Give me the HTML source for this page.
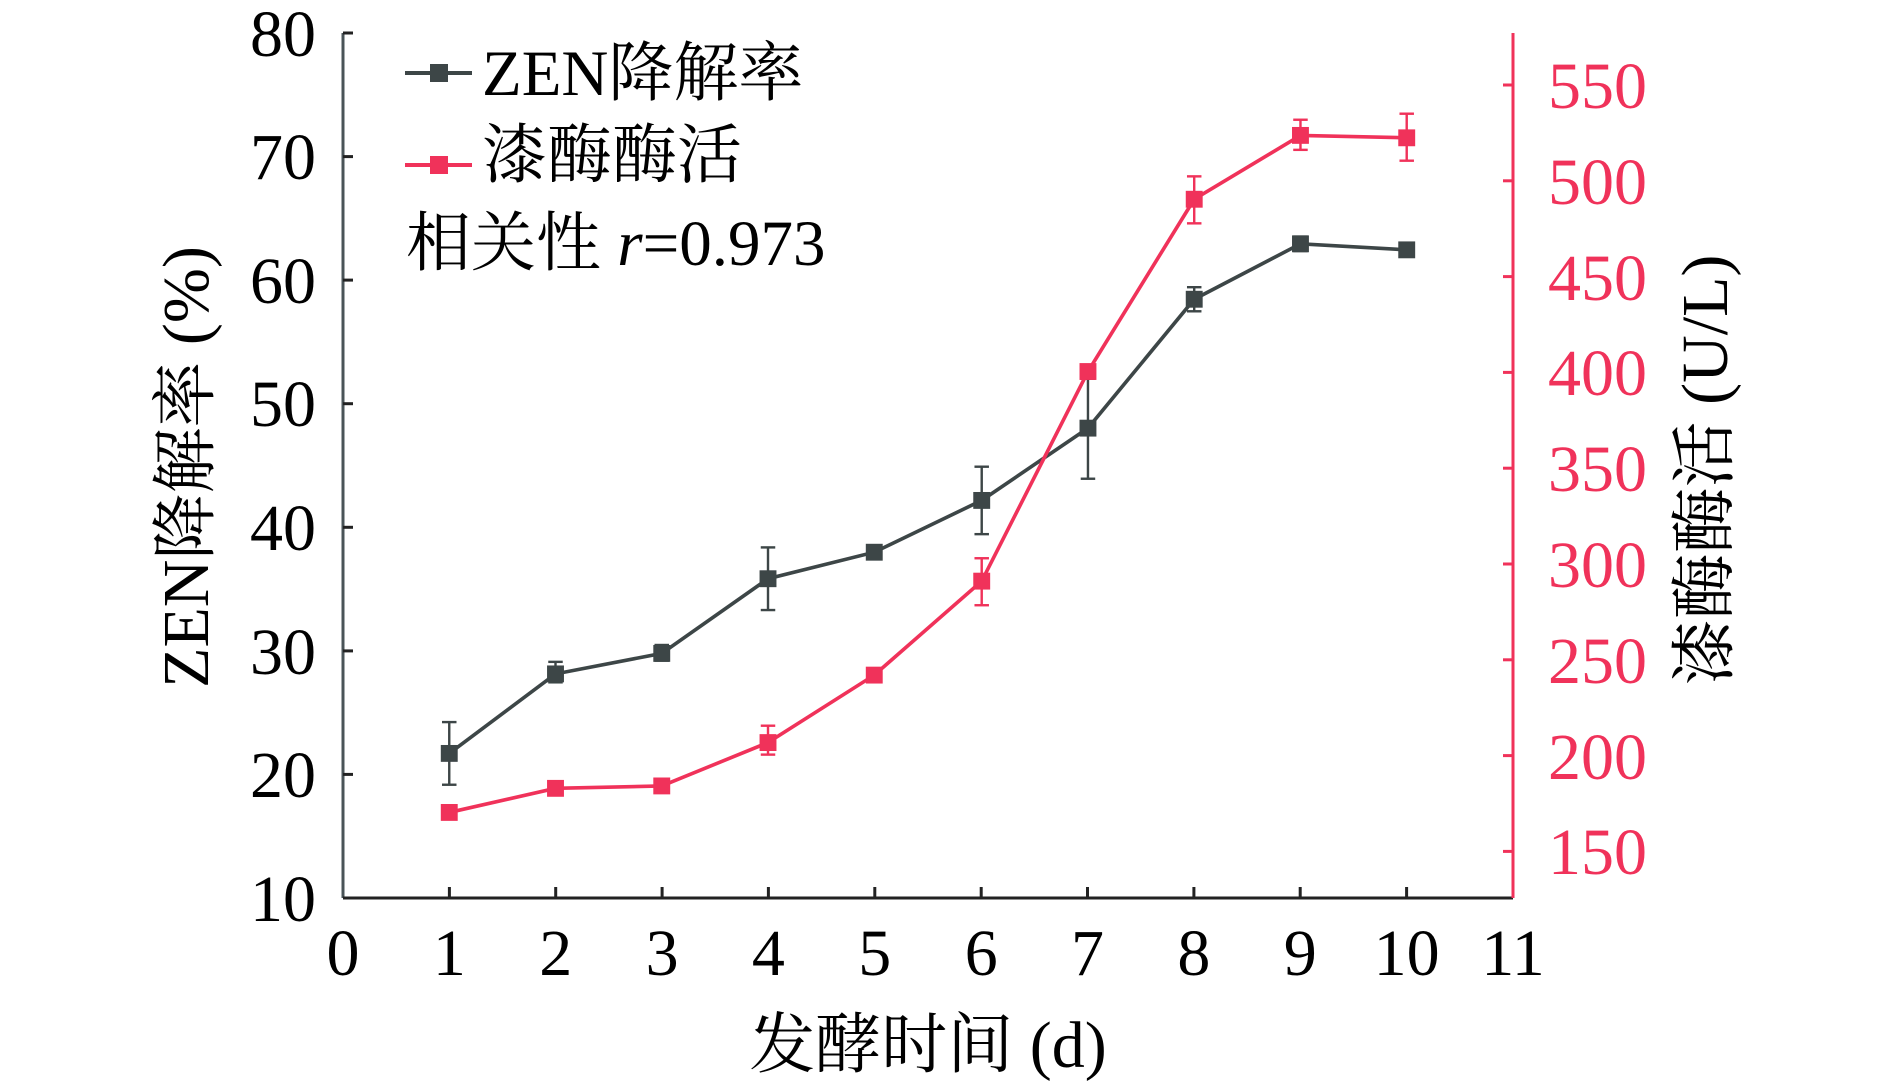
<!DOCTYPE html>
<html><head><meta charset="utf-8"><style>html,body{margin:0;padding:0;background:#fff}svg{display:block}</style></head><body>
<svg width="1890" height="1085" viewBox="0 0 1890 1085" xmlns="http://www.w3.org/2000/svg" font-family="'Liberation Serif','Noto Serif CJK SC',serif">
<!-- axes (true pixels) -->
<g stroke="#222" stroke-width="3" fill="none">
<line x1="343" y1="33" x2="343" y2="898" stroke="#4a5458"/>
<line x1="343" y1="898" x2="1513" y2="898"/>
<line x1="343" y1="33" x2="353" y2="33"/><line x1="343" y1="156.6" x2="353" y2="156.6"/><line x1="343" y1="280.1" x2="353" y2="280.1"/><line x1="343" y1="403.7" x2="353" y2="403.7"/><line x1="343" y1="527.3" x2="353" y2="527.3"/><line x1="343" y1="650.9" x2="353" y2="650.9"/><line x1="343" y1="774.4" x2="353" y2="774.4"/>
<line x1="449.4" y1="898" x2="449.4" y2="887"/><line x1="555.7" y1="898" x2="555.7" y2="887"/><line x1="662.1" y1="898" x2="662.1" y2="887"/><line x1="768.4" y1="898" x2="768.4" y2="887"/><line x1="874.8" y1="898" x2="874.8" y2="887"/><line x1="981.2" y1="898" x2="981.2" y2="887"/><line x1="1087.5" y1="898" x2="1087.5" y2="887"/><line x1="1193.9" y1="898" x2="1193.9" y2="887"/><line x1="1300.2" y1="898" x2="1300.2" y2="887"/><line x1="1406.6" y1="898" x2="1406.6" y2="887"/>
</g>
<g stroke="#f0325a" stroke-width="3" fill="none">
<line x1="1513" y1="33" x2="1513" y2="898"/>
<line x1="1503" y1="85" x2="1513" y2="85"/><line x1="1503" y1="180.8" x2="1513" y2="180.8"/><line x1="1503" y1="276.6" x2="1513" y2="276.6"/><line x1="1503" y1="372.4" x2="1513" y2="372.4"/><line x1="1503" y1="468.2" x2="1513" y2="468.2"/><line x1="1503" y1="564" x2="1513" y2="564"/><line x1="1503" y1="659.8" x2="1513" y2="659.8"/><line x1="1503" y1="755.6" x2="1513" y2="755.6"/><line x1="1503" y1="851.4" x2="1513" y2="851.4"/>
</g>
<g font-size="66" text-anchor="end" fill="#000">
<text x="316" y="56">80</text><text x="316" y="179">70</text><text x="316" y="303">60</text><text x="316" y="426">50</text><text x="316" y="550">40</text><text x="316" y="674">30</text><text x="316" y="797">20</text><text x="316" y="921">10</text>
</g>
<g font-size="66" text-anchor="middle" fill="#000">
<text x="343" y="975">0</text><text x="449.4" y="975">1</text><text x="555.7" y="975">2</text><text x="662.1" y="975">3</text><text x="768.4" y="975">4</text><text x="874.8" y="975">5</text><text x="981.2" y="975">6</text><text x="1087.5" y="975">7</text><text x="1193.9" y="975">8</text><text x="1300.2" y="975">9</text><text x="1406.6" y="975">10</text><text x="1513" y="975">11</text>
</g>
<g font-size="66" fill="#f0325a">
<text x="1548" y="108">550</text><text x="1548" y="204">500</text><text x="1548" y="300">450</text><text x="1548" y="395">400</text><text x="1548" y="491">350</text><text x="1548" y="587">300</text><text x="1548" y="683">250</text><text x="1548" y="779">200</text><text x="1548" y="874">150</text>
</g>
<text x="928" y="1067" font-size="66" text-anchor="middle">发酵时间 (d)</text>
<text transform="translate(208,467) rotate(-90)" font-size="66" text-anchor="middle">ZEN降解率 (%)</text>
<text transform="translate(1727,470) rotate(-90)" font-size="66" text-anchor="middle">漆酶酶活 (U/L)</text>
<!-- data in display coords mapped -->
<g transform="translate(343,33) scale(1.2074,1.2047) translate(-285,-27)">
<g stroke="#3d4647" stroke-width="2">
<line x1="373" y1="599" x2="373" y2="651"/><line x1="367" y1="599" x2="379" y2="599"/><line x1="367" y1="651" x2="379" y2="651"/>
<line x1="461" y1="549" x2="461" y2="566"/><line x1="455" y1="549" x2="467" y2="549"/><line x1="455" y1="566" x2="467" y2="566"/>
<line x1="549" y1="535" x2="549" y2="548"/><line x1="543" y1="535" x2="555" y2="535"/><line x1="543" y1="548" x2="555" y2="548"/>
<line x1="637" y1="454" x2="637" y2="506"/><line x1="631" y1="454" x2="643" y2="454"/><line x1="631" y1="506" x2="643" y2="506"/>
<line x1="814" y1="387" x2="814" y2="443"/><line x1="808" y1="387" x2="820" y2="387"/><line x1="808" y1="443" x2="820" y2="443"/>
<line x1="902" y1="314" x2="902" y2="397"/><line x1="896" y1="314" x2="908" y2="314"/><line x1="896" y1="397" x2="908" y2="397"/>
<line x1="990" y1="238" x2="990" y2="258"/><line x1="984" y1="238" x2="996" y2="238"/><line x1="984" y1="258" x2="996" y2="258"/>
<line x1="1078" y1="196" x2="1078" y2="208"/><line x1="1072" y1="196" x2="1084" y2="196"/><line x1="1072" y1="208" x2="1084" y2="208"/>
</g>
<polyline fill="none" stroke="#3d4647" stroke-width="3" points="373,625 461,559 549,542 637,480 725,458 814,415 902,355 990,248 1078,202 1166,207"/>
<g fill="#3d4647">
<rect x="366" y="618" width="14" height="14"/><rect x="454" y="552" width="14" height="14"/><rect x="542" y="535" width="14" height="14"/><rect x="630" y="473" width="14" height="14"/><rect x="718" y="451" width="14" height="14"/><rect x="807" y="408" width="14" height="14"/><rect x="895" y="348" width="14" height="14"/><rect x="983" y="241" width="14" height="14"/><rect x="1071" y="195" width="14" height="14"/><rect x="1159" y="200" width="14" height="14"/>
</g>
<g stroke="#f0325a" stroke-width="2">
<line x1="637" y1="602" x2="637" y2="626"/><line x1="631" y1="602" x2="643" y2="602"/><line x1="631" y1="626" x2="643" y2="626"/>
<line x1="814" y1="463" x2="814" y2="502"/><line x1="808" y1="463" x2="820" y2="463"/><line x1="808" y1="502" x2="820" y2="502"/>
<line x1="990" y1="146" x2="990" y2="185"/><line x1="984" y1="146" x2="996" y2="146"/><line x1="984" y1="185" x2="996" y2="185"/>
<line x1="1078" y1="99" x2="1078" y2="124"/><line x1="1072" y1="99" x2="1084" y2="99"/><line x1="1072" y1="124" x2="1084" y2="124"/>
<line x1="1166" y1="94" x2="1166" y2="133"/><line x1="1160" y1="94" x2="1172" y2="94"/><line x1="1160" y1="133" x2="1172" y2="133"/>
</g>
<polyline fill="none" stroke="#f0325a" stroke-width="3" points="373,674 461,654 549,652 637,616 725,560 814,482 902,308 990,165 1078,112 1166,114"/>
<g fill="#f0325a">
<rect x="366" y="667" width="14" height="14"/><rect x="454" y="647" width="14" height="14"/><rect x="542" y="645" width="14" height="14"/><rect x="630" y="609" width="14" height="14"/><rect x="718" y="553" width="14" height="14"/><rect x="807" y="475" width="14" height="14"/><rect x="895" y="301" width="14" height="14"/><rect x="983" y="158" width="14" height="14"/><rect x="1071" y="105" width="14" height="14"/><rect x="1159" y="107" width="14" height="14"/>
</g>
</g>
<!-- legend -->
<line x1="405" y1="73" x2="472" y2="73" stroke="#3d4647" stroke-width="4"/><rect x="430" y="64" width="18" height="18" fill="#3d4647"/>
<text x="482" y="95" font-size="65">ZEN降解率</text>
<line x1="405" y1="165" x2="472" y2="165" stroke="#f0325a" stroke-width="4"/><rect x="430" y="156" width="18" height="18" fill="#f0325a"/>
<text x="482" y="177" font-size="65">漆酶酶活</text>
<text x="406" y="265" font-size="65">相关性 <tspan font-style="italic">r</tspan>=0.973</text>
</svg>
</body></html>
